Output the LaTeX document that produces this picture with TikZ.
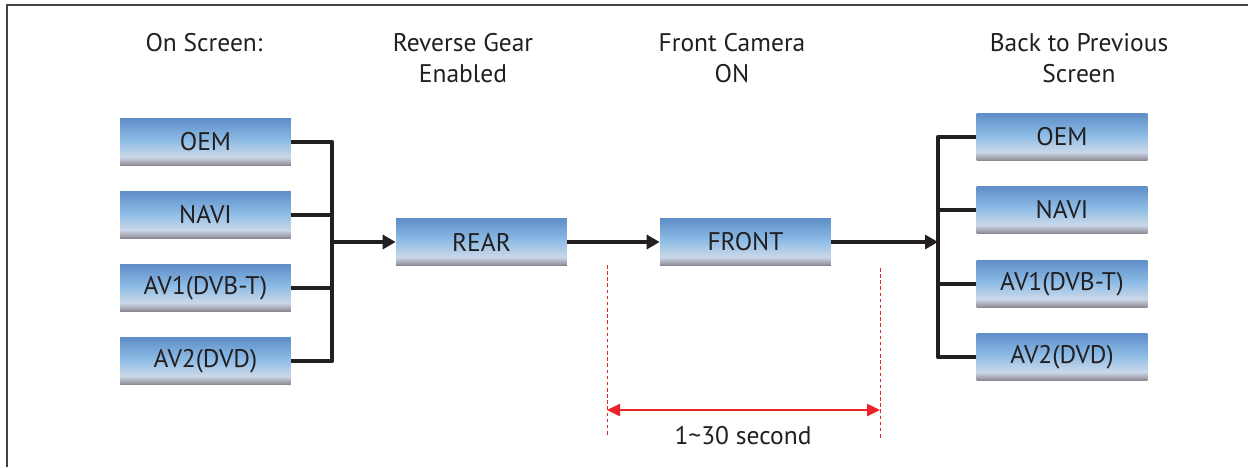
\documentclass[tikz,border=0pt]{standalone}
\usepackage{fontspec}
\setmainfont{PT Sans}
\usetikzlibrary{calc,arrows.meta}

\definecolor{inkblack}{HTML}{231F20}
\definecolor{timered}{HTML}{EC2227}
\definecolor{shadetop}{HTML}{5F8EC9}
\definecolor{shademid}{HTML}{8DBCE6}
\definecolor{shadepale}{HTML}{CBD8E8}
\definecolor{shadegray}{HTML}{858390}
\definecolor{shadegraytwo}{HTML}{A3A2AE}
\pgfdeclareverticalshading{screenshade}{100bp}{color(0bp)=(shadegray); color(25bp)=(shadegray); color(28bp)=(shadegraytwo); color(34bp)=(shadepale); color(52bp)=(shademid); color(75bp)=(shadetop); color(100bp)=(shadetop)}

\tikzset{
  screen/.style={shading=screenshade, minimum width=3.42cm, minimum height=0.94cm, inner sep=0pt, text=inkblack, font=\fontsize{14.5}{17}\selectfont},
  title/.style={align=center, text=inkblack, font=\fontsize{14.5}{17.6}\selectfont},
  bus/.style={draw=inkblack, line width=2.4pt, line join=round},
  flow/.style={bus, -{Triangle[length=0.26cm,width=0.28cm]}},
  timeline/.style={draw=timered, line width=0.5pt, dash pattern=on 2pt off 1.5pt},
  span/.style={draw=timered, line width=1.4pt, {Triangle[length=0.26cm,width=0.24cm]}-{Triangle[length=0.26cm,width=0.24cm]}}
}

\begin{document}
\begin{tikzpicture}[x=0.02cm, y=-0.02cm]
            \useasboundingbox (0,0) rectangle (1248,467);
            \draw[inkblack!85, line width=1.1pt] (7,467) -- (7,5) -- (1248,5);

            % headings
            \node[title] (hscreen) at (204,43) {On Screen:};
            \node[title] (hrear) at (463,58) {Reverse Gear\\Enabled};
            \node[title] (hfront) at (732,58) {Front Camera\\ON};
            \node[title] (hback) at (1079,58) {Back to Previous\\Screen};

            % screens before
            \node[screen] (oemL) at (205.5,142) {OEM};
            \node[screen] (naviL) at (205.5,215) {NAVI};
            \node[screen] (avoneL) at (205.5,288) {AV1(DVB-T)};
            \node[screen] (avtwoL) at (205.5,361) {AV2(DVD)};

            % cameras
            \node[screen] (rear) at (481.5,242) {REAR};
            \node[screen] (front) at (745.5,242) {FRONT};

            % screens after
            \node[screen] (oemR) at (1062,137) {OEM};
            \node[screen] (naviR) at (1062,210) {NAVI};
            \node[screen] (avoneR) at (1062,284) {AV1(DVB-T)};
            \node[screen] (avtwoR) at (1062,357) {AV2(DVD)};

            \coordinate (lbus) at (332,242);
            \coordinate (rbus) at (938,242);

            \draw[bus] (oemL.east) -- (oemL.east -| lbus) -- (avtwoL.east -| lbus) -- (avtwoL.east);
            \draw[bus] (naviL.east) -- (naviL.east -| lbus);
            \draw[bus] (avoneL.east) -- (avoneL.east -| lbus);
            \draw[flow] (lbus) -- (rear.west);
            \draw[flow] (rear.east) -- (front.west);
            \draw[flow] (front.east) -- (rbus);

            \draw[bus] (oemR.west) -- (oemR.west -| rbus) -- (avtwoR.west -| rbus) -- (avtwoR.west);
            \draw[bus] (naviR.west) -- (naviR.west -| rbus);
            \draw[bus] (avoneR.west) -- (avoneR.west -| rbus);

            % timing
            \coordinate (startTop) at (607,265);
            \coordinate (startBot) at (607,437);
            \coordinate (endTop) at (880,268);
            \coordinate (endBot) at (880,440);
            \draw[timeline] (startTop) -- (startBot);
            \draw[timeline] (endTop) -- (endBot);
            \draw[span] (startTop |- 0,410) -- (endTop |- 0,410);
            \node[title] (duration) at (743,436) {1\textasciitilde30 second};
\end{tikzpicture}
\end{document}
